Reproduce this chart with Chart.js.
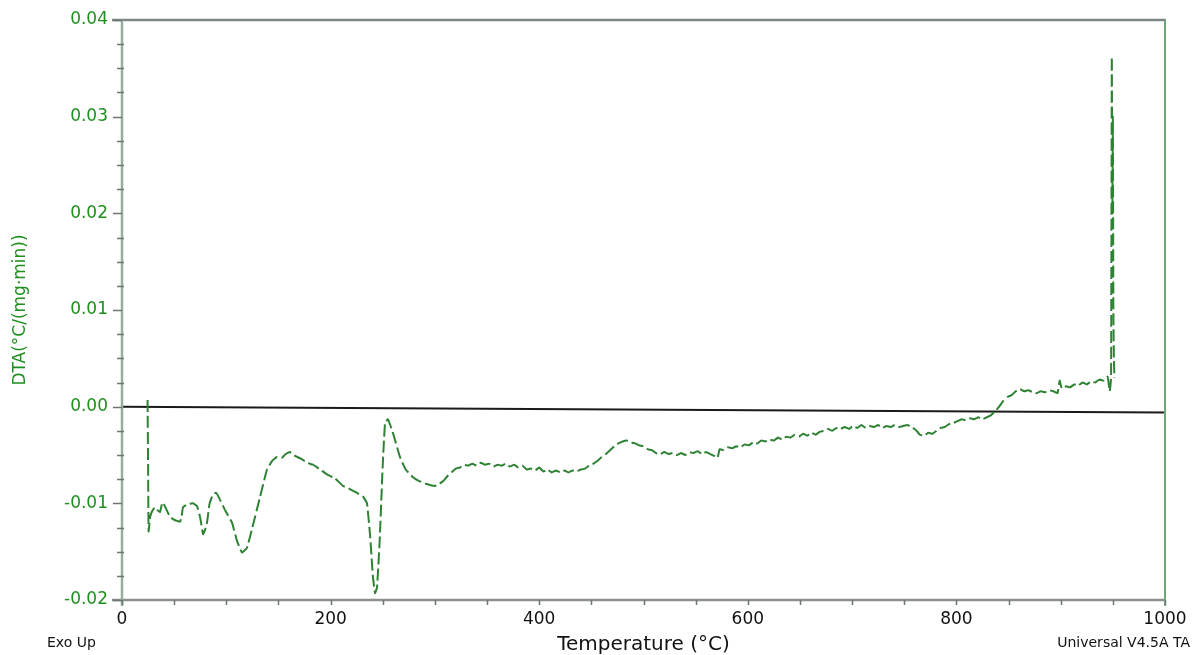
<!DOCTYPE html>
<html>
<head>
<meta charset="utf-8">
<script src="https://cdn.jsdelivr.net/npm/chart.js@4.4.1/dist/chart.umd.min.js"></script>
<style>
html,body{margin:0;padding:0;background:#fff;}
#wrap{position:relative;width:1192px;height:655px;}
canvas{display:block;}
</style>
</head>
<body>
<div id="wrap"><canvas id="c" width="1192" height="655"></canvas></div>
<script>
// Temperature (°C) of each sampled point of the DTA curve
const temperature = [
 24.5,25.0,25.5,27,29,31.6,34,36.4,38,39.3,42,46,50,55.6,57,58.5,63,68,72,75,77.7,79.5,81.5,84,87.2,90,92,98.8,105.5,110,115,119.8,125,132,139,144,148.6,153,157,161,166,172,177.4,183,190,196.5,204,211.9,218,225,231.1,234.9,238,240.5,242.6,244.5,247,250,252.2,255,260,266.5,272,279,285,292,
 300,304,308,312,316,320,324,328,332,336,340,344,348,352,356,360,364,368,372,376,380,384,388,392,396,400,404,408,412,416,420,424,428,432,436,440,444,448,452,456,460,464,468,472,476,480,484,488,492,496,500,504,508,512,516,520,524,528,532,536,540,544,548,552,556,560,564,568,571,573,577,581,585,589,593,597,601,605,609,613,617,621,625,629,633,637,641,645,649,653,657,661,665,669,673,677,681,685,689,693,697,701,705,709,713,717,721,725,729,733,737,741,745,749,753,757,761,765,769,773,777,781,785,789,793,797,801,805,809,813,817,821,825,829,833,837,841,845,849,853,857,861,865,869,873,877,881,885,889,893,897,899,901,905,909,913,917,921,925,929,933,937,941,945,947,948.3,949.0,949.5,950.0,950.5,951.0,951.5
];
// DTA signal, °C/(mg·min)
const dta = [
 0.0007,-0.0060,-0.0129,-0.0114,-0.0108,-0.0104,-0.0107,-0.0109,-0.0102,-0.0099,-0.0105,-0.0114,-0.0117,-0.0119,-0.0115,-0.0104,-0.0101,-0.0100,-0.0103,-0.0115,-0.0132,-0.0128,-0.0120,-0.0100,-0.0091,-0.0089,-0.0092,-0.0107,-0.0120,-0.0138,-0.0151,-0.0146,-0.0125,-0.0095,-0.0065,-0.0056,-0.0052,-0.0053,-0.0049,-0.0047,-0.0051,-0.0054,-0.0058,-0.0060,-0.0065,-0.0070,-0.0074,-0.0082,-0.0085,-0.0089,-0.0093,-0.0100,-0.0135,-0.0175,-0.0193,-0.0187,-0.0140,-0.0060,-0.0017,-0.0013,-0.0028,-0.0052,-0.0065,-0.0073,-0.0077,-0.0080,
 -0.0082,-0.0080,-0.0077,-0.0072,-0.0068,-0.0064,-0.0063,-0.0060,-0.0061,-0.0059,-0.0061,-0.0058,-0.0060,-0.0059,-0.0062,-0.0060,-0.0061,-0.0059,-0.0062,-0.0060,-0.0063,-0.0061,-0.0065,-0.0064,-0.0066,-0.0063,-0.0067,-0.0065,-0.0068,-0.0066,-0.0068,-0.0066,-0.0068,-0.0066,-0.0067,-0.0065,-0.0064,-0.0061,-0.0059,-0.0056,-0.0052,-0.0049,-0.0045,-0.0041,-0.0038,-0.0036,-0.0035,-0.0037,-0.0038,-0.0040,-0.0041,-0.0044,-0.0045,-0.0048,-0.0049,-0.0047,-0.0049,-0.0048,-0.0050,-0.0048,-0.0050,-0.0047,-0.0048,-0.0046,-0.0049,-0.0047,-0.0049,-0.0051,-0.0053,-0.0044,-0.0045,-0.0042,-0.0043,-0.0041,-0.0042,-0.0039,-0.0040,-0.0037,-0.0038,-0.0035,-0.0036,-0.0034,-0.0035,-0.0032,-0.0034,-0.0031,-0.0032,-0.0029,-0.0031,-0.0028,-0.0030,-0.0027,-0.0029,-0.0026,-0.0025,-0.0023,-0.0025,-0.0022,-0.0023,-0.0021,-0.0023,-0.0020,-0.0022,-0.0019,-0.0022,-0.0020,-0.0021,-0.0019,-0.0022,-0.0020,-0.0021,-0.0019,-0.0021,-0.0020,-0.0019,-0.0021,-0.0024,-0.0029,-0.0030,-0.0027,-0.0028,-0.0025,-0.0022,-0.0021,-0.0018,-0.0017,-0.0015,-0.0013,-0.0014,-0.0012,-0.0013,-0.0011,-0.0013,-0.0011,-0.0009,-0.0005,0.0000,0.0006,0.0010,0.0012,0.0016,0.0018,0.0016,0.0017,0.0015,0.0014,0.0016,0.0015,0.0017,0.0016,0.0014,0.0027,0.0019,0.0021,0.0020,0.0023,0.0022,0.0025,0.0023,0.0026,0.0025,0.0028,0.0027,0.0031,0.0016,0.0030,0.0362,0.0200,0.0300,0.0100,0.0050,0.0030
];
// Reference baseline (black line)
const baseT = [0, 1000];
const baseV = [0.0000, -0.0006];
// Axis ticks
const xMajorTicks = [0, 200, 400, 600, 800, 1000];
const yMajorTicks = [-0.02, -0.01, 0.00, 0.01, 0.02, 0.03, 0.04];
const xMinorStep = 50;
const yMinorStep = 0.0025;

const GREEN_TXT = '#1f8f1f';
const FONT = '"DejaVu Sans", "Liberation Sans", sans-serif';

const curvePts = temperature.map((t, i) => ({x: t, y: dta[i]}));
const basePts = baseT.map((t, i) => ({x: t, y: baseV[i]}));

const framePlugin = {
  id: 'frame',
  afterDatasetsDraw(chart) {
    const ctx = chart.ctx;
    const xs = chart.scales.x, ys = chart.scales.y;
    const L = xs.getPixelForValue(0), R = xs.getPixelForValue(1000);
    const T = ys.getPixelForValue(0.04), B = ys.getPixelForValue(-0.02);
    ctx.save();
    ctx.strokeStyle = '#7f8583'; ctx.lineWidth = 2.5;
    ctx.beginPath(); ctx.moveTo(L - 10, T); ctx.lineTo(R + 1, T); ctx.stroke();
    ctx.strokeStyle = '#8c918e'; ctx.lineWidth = 2.5;
    ctx.beginPath(); ctx.moveTo(L - 10, B); ctx.lineTo(R + 1, B); ctx.stroke();
    ctx.strokeStyle = '#6fa874'; ctx.lineWidth = 2;
    ctx.beginPath(); ctx.moveTo(R, T); ctx.lineTo(R, B + 6); ctx.stroke();
    ctx.strokeStyle = '#93ae9a'; ctx.lineWidth = 2.5;
    ctx.beginPath(); ctx.moveTo(L, T); ctx.lineTo(L, B + 6); ctx.stroke();
    ctx.strokeStyle = '#6f7773'; ctx.lineWidth = 1.5;
    for (let k = 0; k <= Math.round(0.06 / yMinorStep); k++) {
      const v = -0.02 + k * yMinorStep;
      const p = Math.round(ys.getPixelForValue(v)) + 0.5;
      const major = yMajorTicks.some(m => Math.abs(m - v) < 1e-6);
      ctx.beginPath();
      if (major) { ctx.moveTo(L - 9, p); ctx.lineTo(L, p); }
      else { ctx.moveTo(L - 5, p); ctx.lineTo(L + 2, p); }
      ctx.stroke();
    }
    for (let t = 0; t <= 1000; t += xMinorStep) {
      const p = Math.round(xs.getPixelForValue(t)) + 0.5;
      ctx.beginPath(); ctx.moveTo(p, B); ctx.lineTo(p, B + 5); ctx.stroke();
    }
    ctx.fillStyle = '#111';
    ctx.font = '14px ' + FONT;
    ctx.textBaseline = 'alphabetic';
    ctx.textAlign = 'left';
    ctx.fillText('Exo Up', 47, 647);
    ctx.textAlign = 'right';
    ctx.fillText('Universal V4.5A TA', 1190, 647);
    ctx.restore();
  }
};

new Chart(document.getElementById('c'), {
  type: 'line',
  data: {
    datasets: [
      {
        label: 'Baseline',
        data: basePts,
        borderColor: '#1a1a1a',
        borderWidth: 2,
        pointRadius: 0,
        tension: 0,
        order: 2
      },
      {
        label: 'DTA',
        data: curvePts,
        borderColor: '#2d8233',
        borderWidth: 2,
        borderDash: [12, 4],
        pointRadius: 0,
        tension: 0.1,
        order: 1
      }
    ]
  },
  options: {
    responsive: false,
    animation: false,
    layout: {padding: {left: 0, right: 27, top: 20, bottom: 0}},
    plugins: {legend: {display: false}, tooltip: {enabled: false}},
    scales: {
      x: {
        type: 'linear', min: 0, max: 1000,
        afterFit(s) { s.height = 55; s.paddingLeft = 0; s.paddingRight = 0; },
        afterBuildTicks(s) { s.ticks = xMajorTicks.map(v => ({value: v})); },
        grid: {display: false, drawTicks: false},
        border: {display: false},
        ticks: {color: '#111', font: {family: FONT, size: 17}, padding: 9, maxRotation: 0,
                callback: v => String(v)},
        title: {display: true, text: 'Temperature (°C)', color: '#111',
                font: {family: FONT, size: 20, lineHeight: 1}, padding: {top: 0, bottom: 0}}
      },
      y: {
        type: 'linear', min: -0.02, max: 0.04,
        afterFit(s) { s.width = 122; s.paddingTop = 0; s.paddingBottom = 0; },
        afterBuildTicks(s) { s.ticks = yMajorTicks.map(v => ({value: v})); },
        grid: {display: false, drawTicks: false},
        border: {display: false},
        ticks: {color: GREEN_TXT, font: {family: FONT, size: 17}, padding: 14,
                callback: v => Number(v).toFixed(2)},
        title: {display: true, text: 'DTA(°C/(mg·min))', color: GREEN_TXT,
                font: {family: FONT, size: 17, lineHeight: 1}, padding: {top: 12, bottom: 0}}
      }
    }
  },
  plugins: [framePlugin]
});
</script>
</body>
</html>
